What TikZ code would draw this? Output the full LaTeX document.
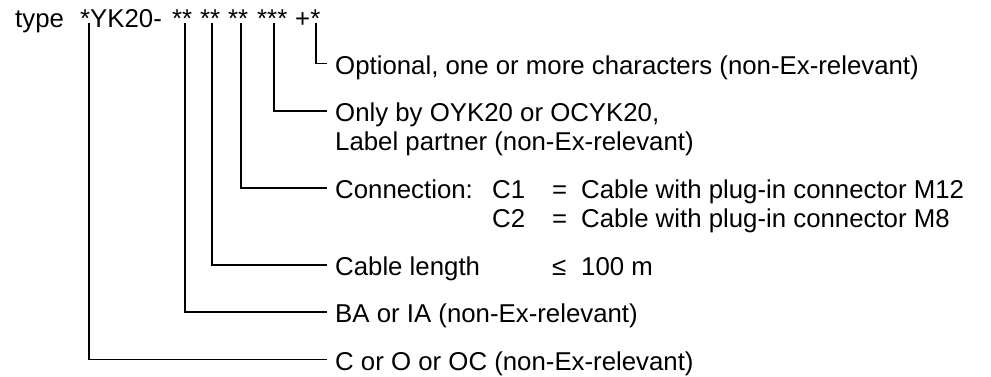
\documentclass[tikz,border=0pt]{standalone}
\usepackage{fontspec}
\setmainfont{Liberation Sans}
\usetikzlibrary{calc}

\tikzset{
  lbl/.style={anchor=base west, inner sep=0pt, font=\fontsize{25.8}{30}\selectfont},
  lead/.style={line width=1.8pt, line cap=butt, line join=miter},
}

\begin{document}
\begin{tikzpicture}[x=1pt, y=1pt]
  \useasboundingbox (0,0) rectangle (991,-376);

  % type designation
  \node[lbl] (tp) at (15,-27) {type};
  \node[lbl] (g0) at (80,-27) {*YK20-};
  \node[lbl] (g1) at (172,-27) {**};
  \node[lbl] (g2) at (200,-27) {**};
  \node[lbl] (g3) at (228,-27) {**};
  \node[lbl] (g4) at (257,-27) {***};
  \node[lbl] (g5) at (295,-27) {+*};

  % tops of the leader lines, just under the placeholders
  \coordinate (a0) at (89,-23);
  \coordinate (a1) at (185,-23);
  \coordinate (a2) at (212,-23);
  \coordinate (a3) at (241,-23);
  \coordinate (a4) at (274,-23);
  \coordinate (a5) at (316,-23);

  % explanations
  \node[lbl] (e5) at (335,-74) {Optional, one or more characters (non-Ex-relevant)};
  \node[lbl] (e4) at (335,-121.5) {Only by OYK20 or OCYK20,};
  \node[lbl] (e4b) at (335,-150) {Label partner (non-Ex-relevant)};
  \node[lbl] (e3) at (335,-198.5) {Connection:};
  \node[lbl] (c1) at (492,-198.5) {C1};
  \node[lbl] (q1) at (552,-198.5) {=};
  \node[lbl] (d1) at (581,-198.5) {Cable with plug-in connector M12};
  \node[lbl] (c2) at (492,-227.5) {C2};
  \node[lbl] (q2) at (552,-227.5) {=};
  \node[lbl] (d2) at (581,-227.5) {Cable with plug-in connector M8};
  \node[lbl] (e2) at (335,-275.5) {Cable length};
  \node[lbl] (le) at (552,-275.5) {≤};
  \node[lbl] (lv) at (581,-275.5) {100 m};
  \node[lbl] (e1) at (335,-322.5) {BA or IA (non-Ex-relevant)};
  \node[lbl] (e0) at (335,-370) {C or O or OC (non-Ex-relevant)};

  % leader lines
  \foreach \a/\e in {a0/e0, a1/e1, a2/e2, a3/e3, a4/e4, a5/e5}
    \draw[lead] (\a) |- ($(\e.base west)+(-8,10.5)$);
\end{tikzpicture}
\end{document}
